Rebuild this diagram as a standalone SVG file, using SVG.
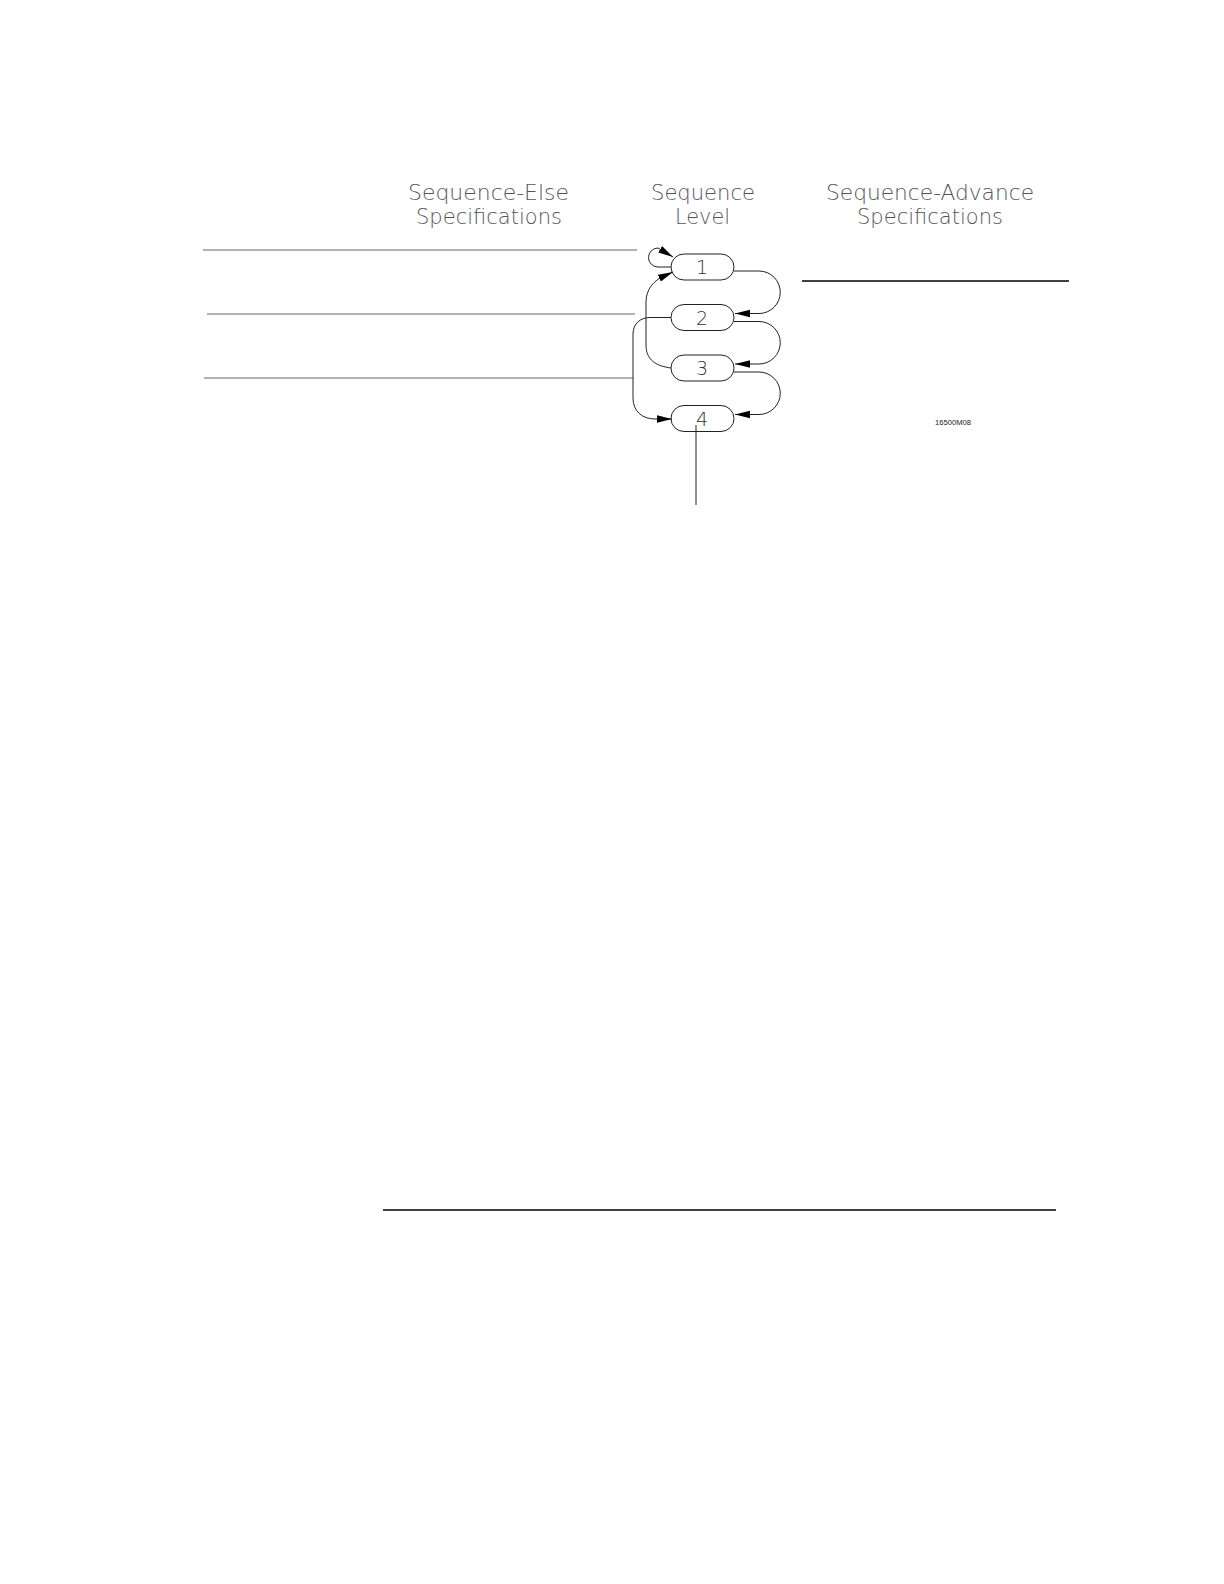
<svg xmlns="http://www.w3.org/2000/svg" width="1224" height="1584" viewBox="0 0 1224 1584">
<defs>
<style>
.hdr{font-family:"DejaVu Sans","Liberation Sans",sans-serif;font-weight:200;font-size:22px;fill:#555}
.num{font-family:"DejaVu Sans","Liberation Sans",sans-serif;font-weight:200;font-size:19px;fill:#333;text-anchor:middle}
.node{fill:#fff;stroke:#222;stroke-width:1}
.conn{fill:none;stroke:#222;stroke-width:1}
.lead{fill:none;stroke:#999;stroke-width:1.3}
.rule{fill:none;stroke:#000;stroke-width:1.6}
.tag{font-family:"Liberation Sans",sans-serif;font-size:7px;fill:#222}
</style>
<marker id="ah" markerWidth="16" markerHeight="9" refX="15" refY="4.5" orient="auto" markerUnits="userSpaceOnUse">
<path d="M0,0.8 L15,4.5 L0,8.2 Z" fill="#000"/>
</marker>
</defs>
<rect width="1224" height="1584" fill="#fff"/>
<g id="headers">
<text class="hdr" x="408" y="200" textLength="161" lengthAdjust="spacingAndGlyphs">Sequence-Else</text>
<text class="hdr" x="416" y="224" textLength="146" lengthAdjust="spacingAndGlyphs">Specifications</text>
<text class="hdr" x="651" y="200" textLength="104" lengthAdjust="spacingAndGlyphs">Sequence</text>
<text class="hdr" x="675" y="224" textLength="55" lengthAdjust="spacingAndGlyphs">Level</text>
<text class="hdr" x="826" y="200" textLength="208" lengthAdjust="spacingAndGlyphs">Sequence-Advance</text>
<text class="hdr" x="857" y="224" textLength="146" lengthAdjust="spacingAndGlyphs">Specifications</text>
</g>
<g id="node1"><rect class="node" x="671" y="254" width="63" height="26" rx="13"/><text class="num" x="702" y="274">1</text></g>
<g id="node2"><rect class="node" x="671" y="304.5" width="63" height="26" rx="13"/><text class="num" x="702" y="324.5">2</text></g>
<g id="node3"><rect class="node" x="671" y="355" width="63" height="26" rx="13"/><text class="num" x="702" y="375">3</text></g>
<g id="node4"><rect class="node" x="671" y="405.5" width="63" height="26" rx="13"/><text class="num" x="702" y="425.5">4</text></g>
<g id="connectors">
<path class="lead" d="M203,250 H637"/>
<path class="lead" d="M207,314 H635"/>
<path class="lead" d="M204,378 H633"/>
<path class="rule" d="M802,281 H1069"/>
<path class="conn" d="M696,425 V505"/>
<path class="conn" d="M734,271 H759 A21.25,21.25 0 0 1 759,313.5 H735" marker-end="url(#ah)"/>
<path class="conn" d="M734,321.5 H759 A21.25,21.25 0 0 1 759,364 H735" marker-end="url(#ah)"/>
<path class="conn" d="M734,372 H759 A21.25,21.25 0 0 1 759,414.5 H735" marker-end="url(#ah)"/>
<path class="conn" d="M671,267 H658 A9.5,9.5 0 0 1 658,248 L673,257" marker-end="url(#ah)"/>
<path class="conn" d="M671,368 C656,366 646,360 646,345 V302 C646,289 654,281 662,277 L673,272" marker-end="url(#ah)"/>
<path class="conn" d="M671,317.5 H650 C640,317.5 633,324 633,334 V398 C633,411 642,419 655,419 H672" marker-end="url(#ah)"/>
</g>
<text class="tag" x="935" y="425" textLength="36" lengthAdjust="spacingAndGlyphs">16500M08</text>
<path class="rule" d="M383,1210 H1056"/>
</svg>
